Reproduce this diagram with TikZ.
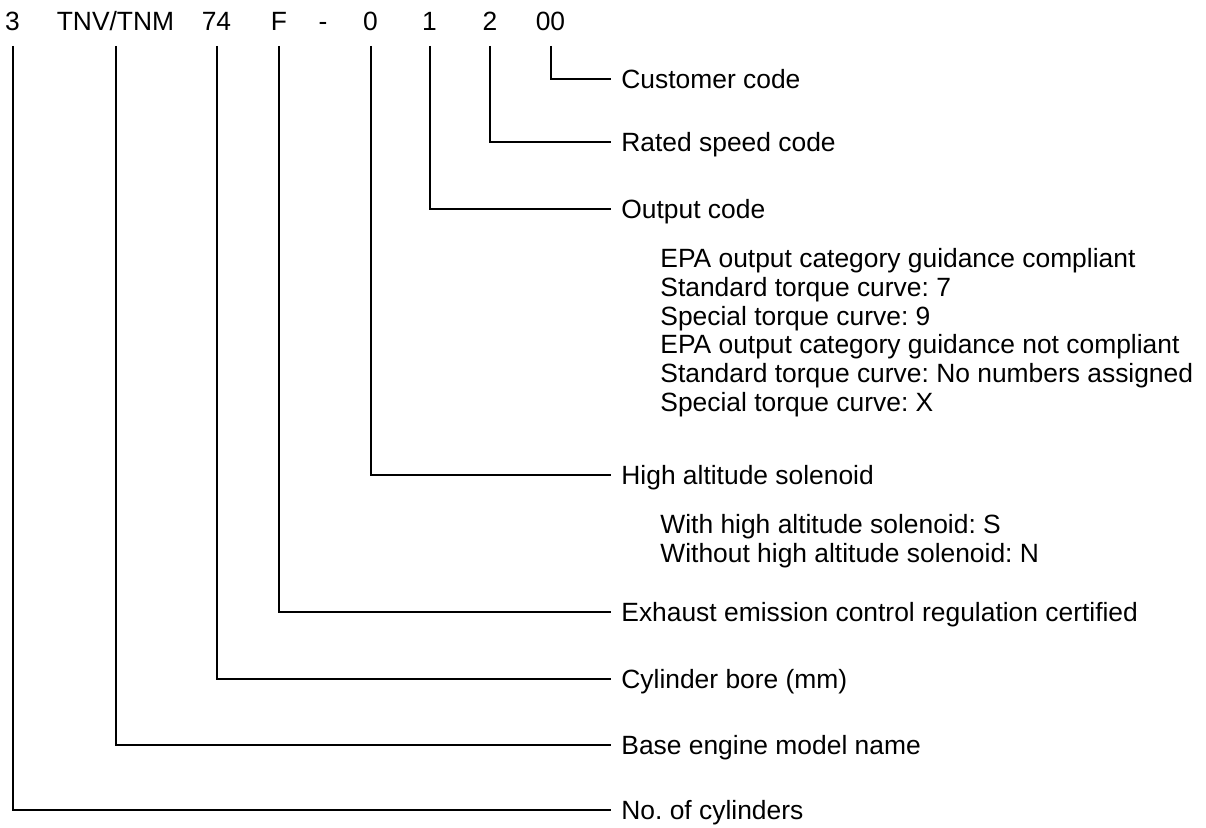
\documentclass[tikz,border=0pt]{standalone}
\usepackage{fontspec}
\setmainfont{Liberation Sans}
\frenchspacing

\begin{document}
\begin{tikzpicture}[x=0.5pt, y=-0.5pt, every node/.style={font=\fontsize{13.2}{15}\selectfont, inner sep=0pt}]
	\tikzset{codepart/.style={anchor=base},
		lbl/.style={anchor=west, inner xsep=5pt, text height=9.4pt, text depth=0pt},
		sub/.style={anchor=base west},
		lead/.style={black, line width=1pt}}
	\useasboundingbox (0,0) rectangle (1206,828);
	
	\node[codepart] (c3) at (12.5, 31) {3};
	\node[codepart] (ctnv) at (115.5, 31) {TNV/TNM};
	\node[codepart] (c74) at (216.5, 31) {74};
	\node[codepart] (cf) at (279, 31) {F};
	\node[codepart] (cdash) at (323, 31) {-};
	\node[codepart] (c0) at (370.5, 31) {0};
	\node[codepart] (c1) at (429.5, 31) {1};
	\node[codepart] (c2) at (490, 31) {2};
	\node[codepart] (c00) at (550.5, 31) {00};
	
	\node[lbl] (l00) at (611, 79) {Customer code};
	\node[lbl] (l2) at (611, 142) {Rated speed code};
	\node[lbl] (l1) at (611, 209) {Output code};
	\node[lbl] (l0) at (611, 475) {High altitude solenoid};
	\node[lbl] (lf) at (611, 612) {Exhaust emission control regulation certified};
	\node[lbl] (l74) at (611, 679) {Cylinder bore (mm)};
	\node[lbl] (ltnv) at (611, 745) {Base engine model name};
	\node[lbl] (l3) at (611, 810) {No. of cylinders};
	
	\node[sub] (o1) at (660, 268) {EPA output category guidance compliant};
	\node[sub] (o2) at (660, 297) {Standard torque curve: 7};
	\node[sub] (o3) at (660, 326) {Special torque curve: 9};
	\node[sub] (o4) at (660, 354) {EPA output category guidance not compliant};
	\node[sub] (o5) at (660, 383) {Standard torque curve: No numbers assigned};
	\node[sub] (o6) at (660, 412) {Special torque curve: X};
	\node[sub] (h1) at (660, 534) {With high altitude solenoid: S};
	\node[sub] (h2) at (660, 563) {Without high altitude solenoid: N};
	
	\draw[lead] (c00.base) ++(0,15) |- (l00.west);
	\draw[lead] (c2.base) ++(0,15) |- (l2.west);
	\draw[lead] (c1.base) ++(0,15) |- (l1.west);
	\draw[lead] (c0.base) ++(0,15) |- (l0.west);
	\draw[lead] (cf.base) ++(0,15) |- (lf.west);
	\draw[lead] (c74.base) ++(0,15) |- (l74.west);
	\draw[lead] (ctnv.base) ++(0,15) |- (ltnv.west);
	\draw[lead] (c3.base) ++(0,15) |- (l3.west);
\end{tikzpicture}
\end{document}
